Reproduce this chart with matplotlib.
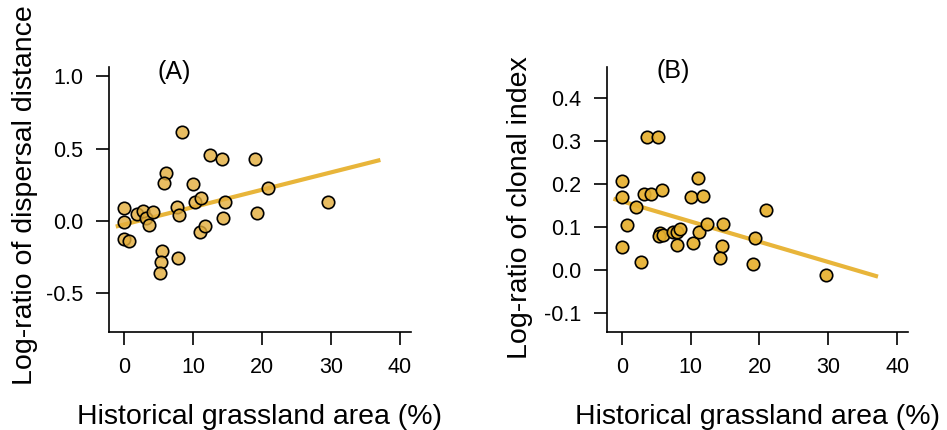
import matplotlib
matplotlib.use("Agg")
import matplotlib.pyplot as plt

plt.rcParams['font.family'] = ['Liberation Sans', 'DejaVu Sans']

# ---------------- data ----------------
area_a = [0, 0, 0, 0.73, 1.93, 2.8, 3.19, 3.67, 4.26, 6.05, 5.85, 5.56, 5.37, 5.27,
          8.46, 7.64, 8.03, 7.88, 10.06, 10.3, 11.13, 11.03, 11.76, 12.43, 14.22,
          14.66, 14.4, 19.0, 19.3, 20.95, 29.6]
dispersal = [0.092, -0.005, -0.127, -0.136, 0.046, 0.071, 0.019, -0.028, 0.064, 0.334,
             0.265, -0.207, -0.284, -0.357, 0.615, 0.095, 0.041, -0.256, 0.258, 0.134,
             0.157, -0.074, -0.035, 0.454, 0.429, 0.134, 0.019, 0.431, 0.058, 0.230, 0.129]

area_b = [0, 0, 0, 0.73, 2.03, 2.8, 3.72, 5.32, 3.28, 4.3, 5.85, 5.56, 5.43, 5.95,
          7.49, 7.98, 8.46, 7.98, 10.01, 11.07, 11.8, 10.3, 11.18, 12.43, 14.75,
          14.51, 14.22, 19.3, 19.0, 20.99, 29.65]
clonal = [0.207, 0.170, 0.053, 0.106, 0.148, 0.019, 0.309, 0.309, 0.176, 0.176,
          0.186, 0.087, 0.080, 0.082, 0.089, 0.088, 0.096, 0.058, 0.171, 0.214,
          0.173, 0.063, 0.088, 0.108, 0.108, 0.057, 0.029, 0.074, 0.015, 0.140, -0.012]

fit_x = [-1.2, 37.2]
fit_a = [-0.039, 0.422]
fit_b = [0.166, -0.015]

xticks = [0, 10, 20, 30, 40]
yticks_a = [-0.5, 0.0, 0.5, 1.0]
yticks_b = [-0.1, 0.0, 0.1, 0.2, 0.3, 0.4]

panel_labels = ["(A)", "(B)"]
xlabel = "Historical grassland area (%)"
ylabels = ["Log-ratio of dispersal distance", "Log-ratio of clonal index"]

# ---------------- figure ----------------
W, H = 947, 430
fig = plt.figure(figsize=(W / 100, H / 100), dpi=100)

line_col = '#E8B53A'
face_a = (0.89, 0.68, 0.23, 0.80)
face_b = (0.90, 0.69, 0.18, 0.92)


def make_ax(left_px, right_px):
    top_px, bot_px = 66.7, 331.7
    ax = fig.add_axes([left_px / W, 1 - bot_px / H, (right_px - left_px) / W,
                       (bot_px - top_px) / H])
    for s in ['top', 'right']:
        ax.spines[s].set_visible(False)
    for s in ['left', 'bottom']:
        ax.spines[s].set_linewidth(1.2)
    ax.tick_params(axis='both', direction='out', length=9.5, width=1.2,
                   labelsize=15.5, color='black')
    ax.tick_params(axis='x', pad=8.5)
    ax.tick_params(axis='y', pad=9)
    ax.set_xlim(-2.18, 41.6)
    ax.set_xticks(xticks)
    ax.set_xticklabels([str(t) for t in xticks])
    return ax


# Panel A
axA = make_ax(109, 410.7)
axA.set_ylim(-0.766, 1.067)
axA.set_yticks(yticks_a)
axA.set_yticklabels(["-0.5", "0.0", "0.5", "1.0"])
axA.plot(fit_x, fit_a, color=line_col, lw=3, solid_capstyle='butt', zorder=2)
axA.scatter(area_a, dispersal, s=80, facecolors=[face_a], edgecolors='black',
            linewidths=1.2, zorder=3)
axA.text(0.215, 0.981, panel_labels[0], transform=axA.transAxes, fontsize=18,
         ha='center', va='center')

# Panel B
axB = make_ax(606.7, 908.3)
axB.set_ylim(-0.143, 0.473)
axB.set_yticks(yticks_b)
axB.set_yticklabels(["-0.1", "0.0", "0.1", "0.2", "0.3", "0.4"])
axB.plot(fit_x, fit_b, color=line_col, lw=3, solid_capstyle='butt', zorder=2)
axB.scatter(area_b, clonal, s=80, facecolors=[face_b], edgecolors='black',
            linewidths=1.2, zorder=3)
axB.text(0.219, 0.985, panel_labels[1], transform=axB.transAxes, fontsize=18,
         ha='center', va='center')

# axis labels
fig.text(259.9 / W, (H - 424) / H, xlabel, fontsize=20.5, ha='center', va='baseline')
fig.text(757.5 / W, (H - 424) / H, xlabel, fontsize=20.5, ha='center', va='baseline')
fig.text(31.7 / W, 1 - 195 / H, ylabels[0], fontsize=20.5, rotation=90,
         rotation_mode='anchor', ha='center', va='baseline')
fig.text(527 / W, 1 - 208 / H, ylabels[1], fontsize=20.5, rotation=90,
         rotation_mode='anchor', ha='center', va='baseline')

fig.savefig("out.png", dpi=100)
